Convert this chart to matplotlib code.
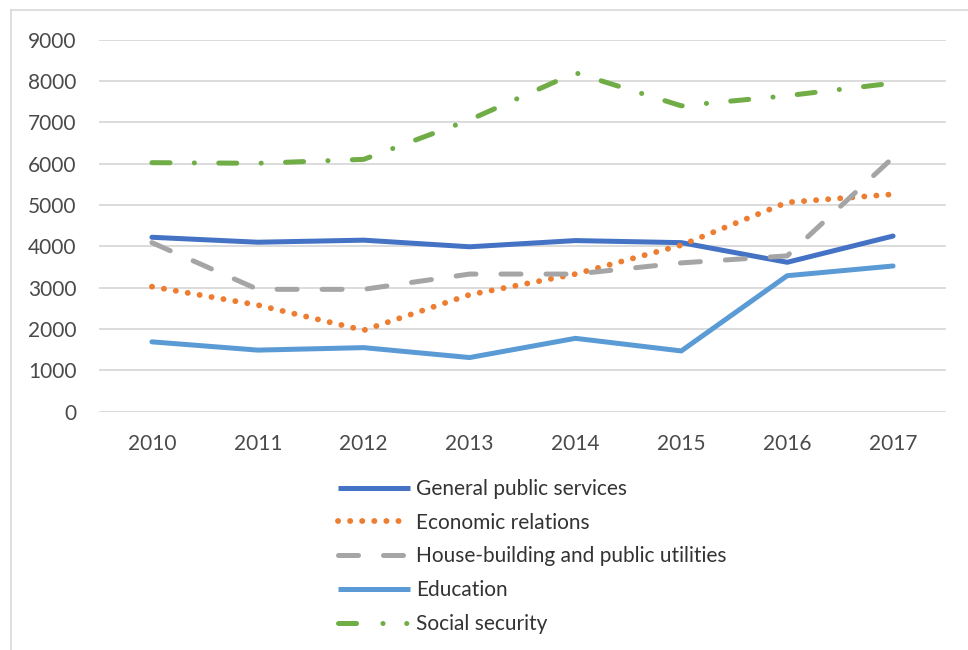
import matplotlib
matplotlib.use("Agg")
import matplotlib.pyplot as plt
from matplotlib.lines import Line2D

years = ["2010", "2011", "2012", "2013", "2014", "2015", "2016", "2017"]
general_public_services = [4220, 4100, 4150, 3990, 4140, 4090, 3615, 4250]
economic_relations = [3025, 2580, 1970, 2830, 3330, 4030, 5065, 5260]
house_building = [4090, 2960, 2960, 3330, 3330, 3600, 3770, 6150]
education = [1690, 1490, 1550, 1310, 1775, 1470, 3290, 3525]
social_security = [6025, 6010, 6105, 7060, 8200, 7400, 7645, 7950]

series_names = [
    "General public services",
    "Economic relations",
    "House-building and public utilities",
    "Education",
    "Social security",
]

plt.rcParams["font.family"] = ["Lato", "DejaVu Sans"]
plt.rcParams["lines.scale_dashes"] = False

fig = plt.figure(figsize=(9.68, 6.5), dpi=100)
ax = fig.add_axes([99 / 968, 238.3 / 650, 847 / 968, 372 / 650])

lw = 3.6
styles = [
    dict(color="#4472C4", linestyle="-", lw=lw),
    dict(color="#ED7D31", linestyle=(0, (0.1, 8.6)), lw=4.2),
    dict(color="#A5A5A5", linestyle=(0, (14.4, 18)), lw=lw),
    dict(color="#5B9BD5", linestyle="-", lw=lw),
    dict(color="#70AD47", linestyle=(0, (13, 17.5, 0.1, 17.5)), lw=lw),
]
data = [general_public_services, economic_relations, house_building,
        education, social_security]

x = range(len(years))
for vals, name, st in zip(data, series_names, styles):
    ax.plot(x, vals, solid_capstyle="round", dash_capstyle="round",
            solid_joinstyle="round", label=name, **st)

ax.set_xlim(-0.5, len(years) - 0.5)
ax.set_ylim(0, 9000)
ax.set_yticks(range(0, 9001, 1000))
ax.set_xticks(list(x))
ax.set_xticklabels(years)
ax.grid(axis="y", color="#D9D9D9", lw=1.3)
ax.set_axisbelow(True)
for s in ax.spines.values():
    s.set_visible(False)
ax.tick_params(length=0, labelsize=15, labelcolor="#4a4a4a")
ax.tick_params(axis="y", pad=16)
ax.tick_params(axis="x", pad=16)

# legend handles; the social security one shows dash, dot, dot like the key
legend_styles = [dict(st) for st in styles]
legend_styles[4]["linestyle"] = (0, (13, 19, 0.1, 17, 0.1, 20))
handles = [Line2D([], [], solid_capstyle="butt", dash_capstyle="round", **st)
           for st in legend_styles]
fig.legend(handles, series_names, loc="upper left",
           bbox_to_anchor=(338 / 968, 1 - 479 / 650), frameon=False,
           fontsize=15, labelcolor="#333333", handlelength=3.46,
           handletextpad=0.29, labelspacing=0.66, borderpad=0, borderaxespad=0)

# chart area border (top and left edges)
fig.add_artist(Line2D([11 / 968, 1], [1 - 10 / 650, 1 - 10 / 650],
                      color="#D9D9D9", lw=1.2, transform=fig.transFigure))
fig.add_artist(Line2D([11 / 968, 11 / 968], [0, 1 - 10 / 650],
                      color="#D9D9D9", lw=1.2, transform=fig.transFigure))

fig.savefig("out.png", dpi=100)
